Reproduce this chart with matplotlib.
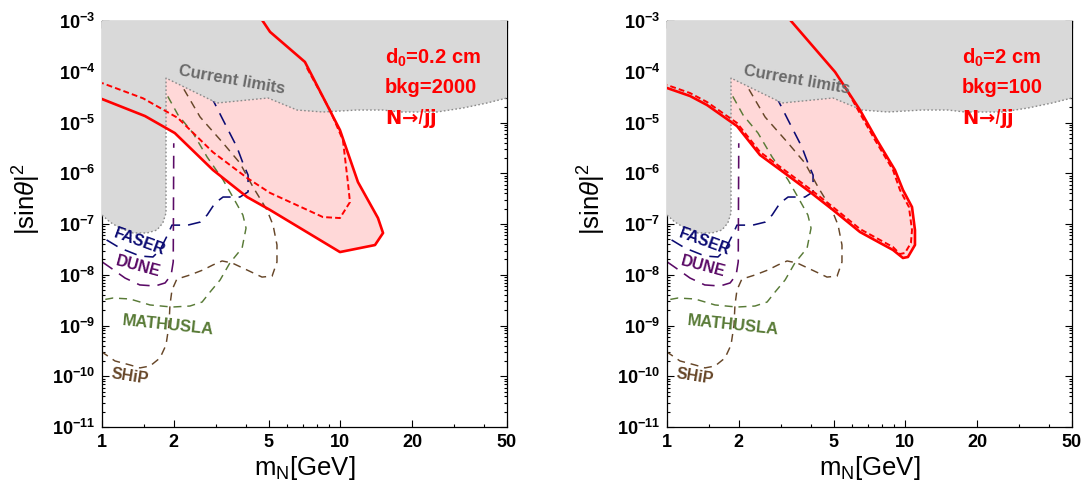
import matplotlib
matplotlib.use("Agg")
import matplotlib.pyplot as plt
from matplotlib.ticker import FixedLocator, NullFormatter, LogLocator

plt.rcParams['font.family'] = ['Liberation Sans', 'DejaVu Sans']
plt.rcParams['mathtext.fontset'] = 'custom'
plt.rcParams['mathtext.rm'] = 'Liberation Sans'
plt.rcParams['mathtext.it'] = 'Liberation Sans:italic'
plt.rcParams['mathtext.bf'] = 'Liberation Sans:bold'

# ---------------- data ----------------
x_ticks = [1, 2, 5, 10, 20, 50]
x_ticklabels = ["1", "2", "5", "10", "20", "50"]
y_exponents = [-11, -10, -9, -8, -7, -6, -5, -4, -3]

# current limits (gray region boundary)
limits_x = [1.0, 1.08, 1.19, 1.349, 1.545, 1.70, 1.80, 1.856, 1.856, 3.04, 4.97, 6.58,
            8.45, 11.74, 15.1, 17.78, 25.4, 32.7, 41.2, 50.0]
limits_y = [1.5e-7, 1.09e-7, 8.3e-8, 6.65e-8, 6.65e-8, 7.6e-8, 1.05e-7, 1.65e-7, 7.5e-5,
            2.42e-5, 3.04e-5, 1.76e-5, 1.61e-5, 1.76e-5, 1.76e-5, 1.61e-5, 1.61e-5,
            1.93e-5, 2.42e-5, 3.04e-5]

faser_x = [2.84, 2.95, 3.22, 3.68, 3.90, 4.10, 4.10, 3.79, 3.22, 2.98, 2.76, 2.58, 2.29,
           1.966, 1.874, 1.751, 1.636, 1.443, 1.19, 1.0]
faser_y = [3.5e-5, 2.53e-5, 1.12e-5, 3.29e-6, 1.59e-6, 9.2e-7, 4.3e-7, 3.4e-7, 3.4e-7,
           2.59e-7, 1.50e-7, 1.09e-7, 9.5e-8, 9.5e-8, 5.8e-8, 3.08e-8, 2.24e-8, 2.34e-8,
           3.36e-8, 5.5e-8]

dune_x = [1.0, 1.08, 1.25, 1.44, 1.67, 1.84, 1.95, 1.99, 2.0]
dune_y = [1.8e-8, 1.4e-8, 8.6e-9, 6.3e-9, 6.0e-9, 6.9e-9, 9.9e-9, 1.8e-8, 3.9e-6]

mathusla_x = [1.75, 1.874, 2.084, 2.408, 2.76, 3.22, 3.54, 3.90, 4.02, 3.87, 3.44, 3.13,
              2.84, 2.63, 2.34, 1.966, 1.59, 1.31, 1.112, 1.0]
mathusla_y = [5.5e-5, 3.48e-5, 1.41e-5, 6.2e-6, 2.09e-6, 7.4e-7, 3.4e-7, 1.50e-7, 8.3e-8,
              3.36e-8, 1.71e-8, 7.9e-9, 4.57e-9, 2.90e-9, 2.42e-9, 2.31e-9, 2.54e-9,
              3.33e-9, 3.48e-9, 3.18e-9]

ship_x = [2.04, 2.19, 2.58, 3.22, 3.79, 4.30, 4.92, 5.22, 5.42, 5.42, 5.17, 4.69, 4.06,
          3.51, 3.19, 2.92, 2.65, 2.34, 2.06, 1.966, 1.928, 1.91, 1.856, 1.751, 1.59,
          1.443, 1.31, 1.134, 1.0]
ship_y = [7.5e-5, 4.79e-5, 1.28e-5, 3.94e-6, 1.59e-6, 5.36e-7, 1.89e-7, 9.5e-8, 3.86e-8,
          1.78e-8, 9.4e-9, 9.0e-9, 1.24e-8, 1.71e-8, 1.87e-8, 1.56e-8, 1.24e-8, 9.9e-9,
          8.2e-9, 5.0e-9, 2.54e-9, 1.02e-9, 4.13e-10, 2.29e-10, 1.59e-10, 1.46e-10,
          1.67e-10, 2.0e-10, 3.0e-10]

# left panel: d0 = 0.2 cm, bkg = 2000
left_solid_x = [4.56, 5.07, 7.10, 9.96, 11.85, 14.38, 15.1, 13.97, 9.96, 5.07, 4.06, 2.92,
                2.02, 1.515, 1.0]
left_solid_y = [1.28e-3, 6.1e-4, 1.56e-4, 7.1e-6, 6.7e-7, 1.31e-7, 6.65e-8, 3.85e-8,
                2.8e-8, 1.89e-7, 3.4e-7, 1.16e-6, 6.2e-6, 1.34e-5, 2.9e-5]
left_dash_x = [7.24, 9.04, 10.25, 10.76, 10.97, 9.96, 8.45, 5.07, 4.06, 2.92, 2.08, 1.486, 1.0]
left_dash_y = [1.19e-4, 1.76e-5, 4.5e-6, 6.4e-7, 2.7e-7, 1.31e-7, 1.37e-7, 4.1e-7, 8.1e-7,
               2.6e-6, 1.23e-5, 3.0e-5, 6.0e-5]

# right panel: d0 = 2 cm, bkg = 100
right_solid_x = [3.22, 5.07, 6.45, 7.60, 9.04, 9.77, 10.66, 10.97, 10.97, 10.25, 9.77, 8.87,
                 7.83, 6.45, 4.97, 3.98, 3.07, 2.455, 1.966, 1.472, 1.249, 1.0]
right_solid_y = [1.17e-3, 9.9e-5, 1.76e-5, 4.5e-6, 1.16e-6, 4.68e-7, 2.16e-7, 7.6e-8,
                 3.86e-8, 2.24e-8, 2.14e-8, 3.08e-8, 4.23e-8, 6.96e-8, 1.89e-7, 4.28e-7,
                 1.06e-6, 2.29e-6, 8.5e-6, 2.21e-5, 3.33e-5, 4.79e-5]
right_dash_x = [5.74, 6.33, 7.46, 8.87, 9.49, 10.35, 10.66, 10.55, 9.96, 9.49, 8.87, 7.83,
                6.45, 4.97, 3.98, 3.07, 2.455, 1.966, 1.472, 1.249, 1.0]
right_dash_y = [4.0e-5, 1.76e-5, 4.5e-6, 1.16e-6, 4.68e-7, 2.16e-7, 7.6e-8, 4.23e-8,
                2.69e-8, 2.56e-8, 3.52e-8, 4.84e-8, 7.97e-8, 2.16e-7, 4.9e-7, 1.21e-6,
                2.63e-6, 9.8e-6, 2.53e-5, 3.81e-5, 5.48e-5]

left_info = ["d$_\\mathbf{0}$=0.2 cm", "bkg=2000"]
right_info = ["d$_\\mathbf{0}$=2 cm", "bkg=100"]
process_label = "N→$\\mathit{l}$jj"

XMIN, XMAX = 1.0, 50.0
YMIN, YMAX = 1e-11, 1e-3

# colors
RED = '#FF0000'
PINK = '#FFD8D8'
GRAY = '#D9D9D9'
C_FASER = '#0B0B73'
C_DUNE = '#5A0A66'
C_MATH = '#587A36'
C_SHIP = '#664628'


def panel(ax, sx, sy, dx, dy):
    # signal region fill
    fx = list(sx) + [XMIN, sx[0]]
    fy = list(sy) + [YMAX * 1.5, YMAX * 1.5]
    ax.fill(fx, fy, color=PINK, lw=0, zorder=1)
    # experiments
    ax.plot(faser_x, faser_y, color=C_FASER, lw=1.15, dashes=(8, 5), zorder=2)
    ax.plot(dune_x, dune_y, color=C_DUNE, lw=1.15, dashes=(8, 5), zorder=2)
    ax.plot(mathusla_x, mathusla_y, color=C_MATH, lw=1.05, dashes=(5.5, 4), zorder=2)
    ax.plot(ship_x, ship_y, color=C_SHIP, lw=1.05, dashes=(5.5, 4), zorder=2)
    # current limits
    gx = list(limits_x) + [XMAX, XMIN]
    gy = list(limits_y) + [YMAX * 1.5, YMAX * 1.5]
    ax.fill(gx, gy, color=GRAY, lw=0, zorder=3)
    ax.plot(limits_x, limits_y, color='#8A8A8A', lw=1.0, ls=(0, (1.2, 1.6)), zorder=3.5)
    # red lines
    ax.plot(sx, sy, color=RED, lw=1.9, zorder=5, solid_joinstyle='round')
    ax.plot(dx, dy, color=RED, lw=1.4, dashes=(3, 1.6), zorder=5)

    ax.text(3.51, 6.9e-5, "Current limits", color='#6A6A6A', fontsize=12,
            fontweight='bold', rotation=-10, ha='center', va='center', zorder=6)
    ax.text(1.443, 4.4e-8, "FASER", color=C_FASER, fontsize=11.5, fontweight='bold',
            rotation=-20, ha='center', va='center', zorder=6)
    ax.text(1.416, 1.42e-8, "DUNE", color=C_DUNE, fontsize=11.5, fontweight='bold',
            rotation=-15, ha='center', va='center', zorder=6)
    ax.text(1.89, 1.02e-9, "MATHUSLA", color=C_MATH, fontsize=12, fontweight='bold',
            rotation=-6, ha='center', va='center', zorder=6)
    ax.text(1.31, 1.0e-10, "SHiP", color=C_SHIP, fontsize=11.5, fontweight='bold',
            rotation=-9, ha='center', va='center', zorder=6)

    ax.set_xscale('log')
    ax.set_yscale('log')
    ax.set_xlim(XMIN, XMAX)
    ax.set_ylim(YMIN, YMAX)
    ax.xaxis.set_major_locator(FixedLocator(x_ticks))
    ax.set_xticklabels(x_ticklabels)
    ax.xaxis.set_minor_locator(FixedLocator([3, 4, 6, 7, 8, 9, 30, 40, 1.5]))
    ax.xaxis.set_minor_formatter(NullFormatter())
    ax.yaxis.set_major_locator(FixedLocator([10.0 ** e for e in y_exponents]))
    ax.set_yticklabels([r"$\mathbf{10^{%d}}$" % e for e in y_exponents])
    ax.yaxis.set_minor_locator(LogLocator(base=10, subs=(2, 3, 4, 5, 6, 7, 8, 9), numticks=30))
    ax.yaxis.set_minor_formatter(NullFormatter())
    ax.tick_params(which='both', direction='in', top=True, right=True, width=0.8)
    ax.tick_params(which='major', length=5, labelsize=13, pad=5)
    ax.tick_params(which='minor', length=2.5)
    for lab in ax.get_xticklabels():
        lab.set_fontweight('bold')
    for sp in ax.spines.values():
        sp.set_linewidth(0.9)
    ax.set_xlabel(r"m$_\mathrm{N}$[GeV]", fontsize=18.5, labelpad=2)
    ax.set_ylabel(r"$|\mathrm{sin}\theta|^2$", fontsize=18.5, labelpad=2)
    ax.yaxis.set_label_coords(-0.145, 0.56)


fig = plt.figure(figsize=(10.83, 4.88), dpi=100)
axL = fig.add_axes([102 / 1083, 61 / 488, 405 / 1083, 406 / 488])
axR = fig.add_axes([667 / 1083, 61 / 488, 405 / 1083, 406 / 488])

panel(axL, left_solid_x, left_solid_y, left_dash_x, left_dash_y)
panel(axR, right_solid_x, right_solid_y, right_dash_x, right_dash_y)

for ax, x0, info in [(axL, 0.699, left_info), (axR, 0.728, right_info)]:
    for yy, s in zip([0.909, 0.835], info):
        ax.text(x0, yy, s, transform=ax.transAxes, color=RED, fontsize=14.5,
                fontweight='bold', ha='left', va='center', zorder=7)
    ax.text(x0, 0.761, process_label, transform=ax.transAxes, color=RED, fontsize=14,
            fontweight='bold', ha='left', va='center', zorder=7,
            family=['DejaVu Sans'], math_fontfamily='dejavusans')

fig.savefig("out.png", dpi=100)
